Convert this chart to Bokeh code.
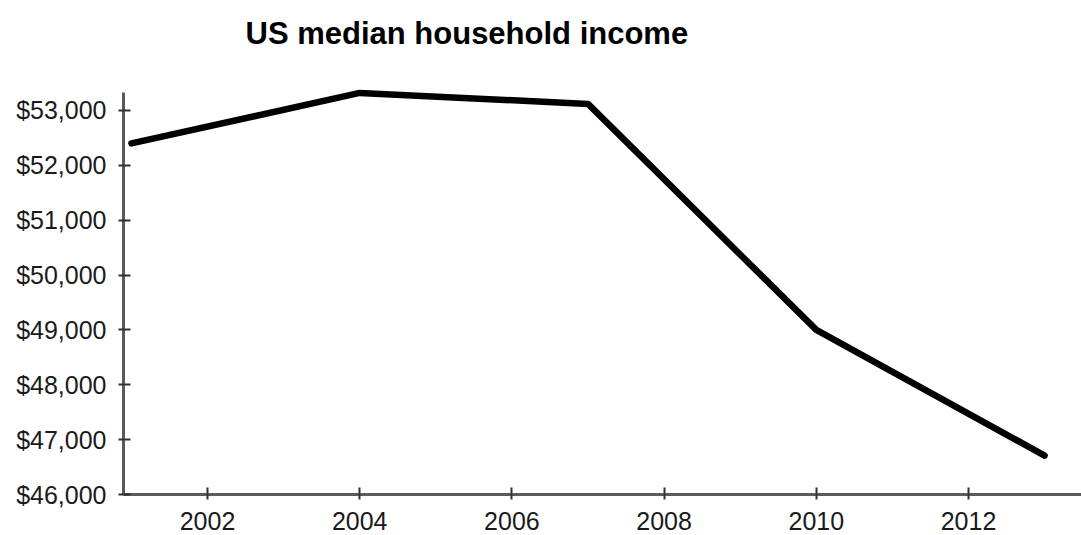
from bokeh.plotting import figure
from bokeh.models import NumeralTickFormatter, FixedTicker, Range1d
from bokeh.core.properties import value
from bokeh.embed import file_html
from bokeh.resources import INLINE

years = [2001, 2004, 2007, 2010, 2013]
income = [52400, 53320, 53120, 49000, 46710]
x_ticks = [2002, 2004, 2006, 2008, 2010, 2012]
y_ticks = [46000, 47000, 48000, 49000, 50000, 51000, 52000, 53000]
title_text = "US median household income"

X0, X1 = 2000.896, 2013.485
Y0, Y_AXIS_TOP, Y1 = 46000, 53328, 55005   # frame reaches the top of the canvas; axis line stops at Y_AXIS_TOP

p = figure(width=1081, height=535, output_backend="svg", toolbar_location=None,
           x_range=Range1d(X0, X1), y_range=Range1d(Y0, Y1),
           min_border_left=123, min_border_right=0, min_border_top=0, min_border_bottom=41)

# title placed in pixel terms inside the (tall) frame
frame_w, frame_h = 1081 - 123, 535 - 41
title_x = X0 + (245 - 123) * (X1 - X0) / frame_w
title_y = Y0 + (frame_h - 33) * (Y1 - Y0) / frame_h
p.text(x=[title_x], y=[title_y], text=[title_text], text_font=value("Liberation Sans"),
       text_font_size="31px", text_font_style="bold", text_color="#000000",
       text_baseline="alphabetic", text_align="left")

p.line(years, income, line_color="black", line_width=6.5, line_join="round", line_cap="round")

p.outline_line_color = None
p.xgrid.grid_line_color = None
p.ygrid.grid_line_color = None
p.background_fill_color = "white"
p.border_fill_color = "white"

p.xaxis.ticker = FixedTicker(ticks=x_ticks)
p.yaxis.ticker = FixedTicker(ticks=y_ticks)
p.yaxis.formatter = NumeralTickFormatter(format="$0,0")
p.yaxis.bounds = (Y0, Y_AXIS_TOP)
for ax in (p.xaxis, p.yaxis):
    ax.axis_line_color = "#5a5a5a"
    ax.axis_line_width = 3
    ax.major_tick_line_color = "#303030"
    ax.major_tick_line_width = 2
    ax.major_tick_in = 7
    ax.major_tick_out = 5
    ax.minor_tick_line_color = None
    ax.major_label_text_font = "Liberation Sans"
    ax.major_label_text_font_size = "25px"
    ax.major_label_text_color = "#1a1a1a"
    ax.major_label_standoff = 12

open("out.html", "w").write(file_html(p, INLINE))
